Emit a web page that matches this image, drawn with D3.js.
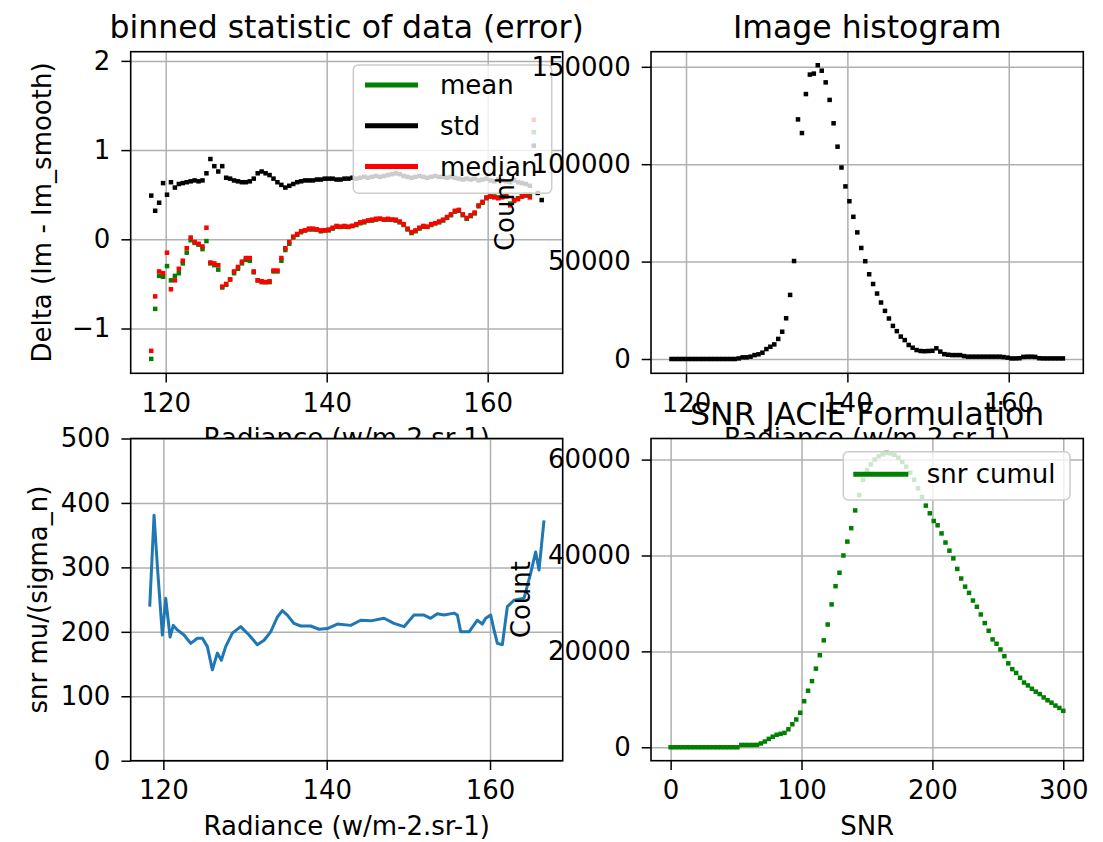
<!DOCTYPE html>
<html>
<head>
<meta charset="utf-8">
<script src="https://cdn.jsdelivr.net/npm/d3@7"></script>
<style>
  body { margin: 0; background: white; }
  svg text { font-family: "DejaVu Sans", sans-serif; }
</style>
</head>
<body>
<script>
// radiance bin centres shared by the binned statistic and the image histogram
var radiance = [118.20, 118.69, 119.18, 119.67, 120.16, 120.65, 121.14, 121.63, 122.12, 122.61,
    123.10, 123.59, 124.08, 124.57, 125.06, 125.55, 126.04, 126.53, 127.02, 127.51,
    128.00, 128.49, 128.98, 129.47, 129.96, 130.45, 130.94, 131.43, 131.92, 132.41,
    132.90, 133.39, 133.88, 134.37, 134.86, 135.35, 135.84, 136.33, 136.82, 137.31,
    137.80, 138.29, 138.78, 139.27, 139.76, 140.25, 140.74, 141.23, 141.72, 142.21,
    142.70, 143.19, 143.68, 144.17, 144.66, 145.15, 145.64, 146.13, 146.62, 147.11,
    147.60, 148.09, 148.58, 149.07, 149.56, 150.05, 150.54, 151.03, 151.52, 152.01,
    152.50, 152.99, 153.48, 153.97, 154.46, 154.95, 155.44, 155.93, 156.42, 156.91,
    157.40, 157.89, 158.38, 158.87, 159.36, 159.85, 160.34, 160.83, 161.32, 161.81,
    162.30, 162.79, 163.28, 163.77, 164.26, 164.75, 165.24, 165.73, 166.22, 166.71];

var meanDelta = [-1.34, -0.78, -0.41, -0.42, -0.30, -0.46, -0.41, -0.38, -0.27, -0.15,
    -0.01, -0.04, -0.06, -0.11, -0.02, -0.27, -0.29, -0.34, -0.54, -0.51,
    -0.45, -0.38, -0.33, -0.27, -0.23, -0.24, -0.37, -0.46, -0.48, -0.48,
    -0.48, -0.36, -0.36, -0.24, -0.12, -0.05, 0.02, 0.05, 0.08, 0.10,
    0.11, 0.11, 0.11, 0.09, 0.10, 0.10, 0.12, 0.14, 0.14, 0.14,
    0.14, 0.15, 0.16, 0.18, 0.19, 0.21, 0.21, 0.22, 0.23, 0.22,
    0.22, 0.22, 0.21, 0.19, 0.16, 0.11, 0.07, 0.09, 0.12, 0.14,
    0.14, 0.16, 0.18, 0.19, 0.21, 0.24, 0.27, 0.31, 0.32, 0.27,
    0.23, 0.26, 0.29, 0.37, 0.41, 0.46, 0.48, 0.48, 0.47, 0.48,
    0.49, 0.40, 0.43, 0.46, 0.48, 0.49, 0.50, 1.20, null, null];

var stdDelta = [0.49, 0.32, 0.41, 0.63, 0.50, 0.64, 0.58, 0.62, 0.63, 0.64,
    0.65, 0.66, 0.65, 0.66, 0.74, 0.90, 0.82, 0.76, 0.82, 0.69,
    0.68, 0.66, 0.65, 0.64, 0.64, 0.65, 0.68, 0.74, 0.76, 0.74,
    0.72, 0.68, 0.64, 0.61, 0.58, 0.60, 0.62, 0.64, 0.65, 0.66,
    0.66, 0.66, 0.67, 0.67, 0.68, 0.68, 0.68, 0.67, 0.67, 0.68,
    0.68, 0.69, 0.68, 0.69, 0.70, 0.69, 0.70, 0.71, 0.70, 0.71,
    0.72, 0.73, 0.74, 0.73, 0.71, 0.70, 0.69, 0.70, 0.71, 0.70,
    0.69, 0.70, 0.71, 0.70, 0.70, 0.69, 0.70, 0.69, 0.68, 0.67,
    0.68, 0.67, 0.68, 0.66, 0.67, 0.68, 0.66, 0.65, 0.67, 0.66,
    0.65, 0.64, 0.66, 0.64, 0.63, 0.62, 0.60, 1.05, 0.52, 0.44];

var medianDelta = [-1.25, -0.64, -0.36, -0.38, -0.15, -0.56, -0.46, -0.33, -0.24, -0.10,
    0.02, -0.03, -0.05, -0.08, 0.13, -0.26, -0.27, -0.29, -0.53, -0.50,
    -0.45, -0.36, -0.31, -0.25, -0.21, -0.21, -0.36, -0.46, -0.47, -0.48,
    -0.47, -0.35, -0.35, -0.21, -0.10, -0.03, 0.03, 0.06, 0.09, 0.10,
    0.12, 0.12, 0.11, 0.10, 0.10, 0.11, 0.13, 0.15, 0.14, 0.15,
    0.14, 0.15, 0.17, 0.19, 0.20, 0.21, 0.22, 0.23, 0.23, 0.22,
    0.23, 0.22, 0.22, 0.20, 0.17, 0.12, 0.08, 0.10, 0.13, 0.15,
    0.14, 0.17, 0.18, 0.20, 0.22, 0.25, 0.28, 0.32, 0.33, 0.28,
    0.24, 0.27, 0.30, 0.38, 0.42, 0.47, 0.48, 0.47, 0.46, 0.47,
    0.48, 0.38, 0.44, 0.45, 0.48, 0.50, 0.47, 1.34, null, null];

var histCount = [0, 0, 0, 0, 0, 0, 0, 0, 0, 0,
    0, 0, 0, 0, 0, 0, 0, 300, 850, 850,
    1200, 2000, 2400, 3250, 5100, 6300, 7500, 10300, 14000, 20900,
    32900, 50300, 123000, 116000, 136000, 146000, 146500, 150800, 148000, 142000,
    133000, 121000, 109000, 98300, 88600, 81000, 73000, 65000, 57000, 50200,
    43500, 38500, 33600, 29000, 24700, 20800, 17000, 14300, 11500, 9700,
    7200, 5800, 4600, 4100, 4000, 4100, 4200, 5500, 3800, 2500,
    2200, 2000, 2000, 2000, 1500, 1200, 1200, 1200, 1200, 1200,
    1200, 1200, 1200, 1200, 1000, 700, 300, 300, 400, 1100,
    1200, 1200, 1100, 400, 300, 300, 300, 300, 300, 300];

var snrRadiance = [118.33, 118.86, 119.27, 119.88, 120.29, 120.82, 121.22, 121.71, 122.53, 123.35,
    124.16, 124.78, 125.39, 126.00, 126.61, 127.10, 127.63, 128.45, 129.47, 130.49,
    131.51, 132.33, 133.14, 133.96, 134.57, 135.18, 136.00, 136.82, 138.04, 139.06,
    140.08, 141.31, 142.94, 144.16, 145.39, 147.02, 148.24, 149.47, 150.69, 151.92,
    152.73, 153.55, 154.37, 155.59, 156.00, 156.41, 157.43, 158.45, 159.06, 159.47,
    160.08, 160.49, 160.90, 161.51, 162.12, 162.94, 164.16, 164.98, 165.59, 166.00, 166.61];

var snrValue = [239, 381, 301, 195, 252, 192, 210, 203, 195, 182,
    190, 190, 177, 141, 167, 156, 177, 198, 208, 195,
    180, 187, 200, 223, 233, 226, 213, 209, 209, 204,
    205, 212, 210, 218, 217, 221, 213, 208, 226, 226,
    221, 228, 226, 229, 226, 200, 200, 218, 212, 221,
    226, 203, 182, 180, 239, 249, 252, 291, 324, 296, 373];

var snrBins = [0, 3, 6, 9, 12, 15, 18, 21, 24, 27, 30, 33, 36, 39, 42, 45, 48, 51,
    54, 57, 60, 63, 66, 69, 72, 75, 78, 81, 84, 87, 90, 93, 96, 99,
    102, 105, 108, 111, 114, 117, 120, 123, 126, 129, 132, 135, 138, 141, 144, 147,
    150, 153, 156, 159, 162, 165, 168, 171, 174, 177, 180, 183, 186, 189, 192, 195, 198,
    201, 204, 207, 210, 213, 216, 219, 222, 225, 228, 231, 234, 237, 240, 243, 246, 249,
    252, 255, 258, 261, 264, 267, 270, 273, 276, 279, 282, 285, 288, 291, 294, 297, 300];

var snrCumul = [0, 0, 0, 0, 0, 0, 0, 0, 0, 0, 0, 0, 0, 0, 0, 0, 0, 0,
    480, 480, 480, 480, 500, 800, 1200, 1750, 2200, 2600, 2800, 3000, 3750, 4800, 5800, 7200,
    9600, 11800, 13800, 16400, 19200, 22300, 25600, 29800, 33600, 36400, 40000, 42900, 45700, 49400, 52600, 55800,
    57800, 59000, 60000, 60700, 61100, 61400, 61300, 61000, 60400, 59500, 58500, 57300, 55800, 54000, 52200, 50400, 48800,
    47200, 46300, 44600, 42700, 41000, 39400, 37200, 35200, 33500, 32200, 30600, 29300, 27700, 25900, 24300, 22500, 21600,
    20400, 19000, 17500, 16300, 15500, 14500, 13500, 12900, 12200, 11600, 11100, 10400, 9800, 9300, 8700, 8200, 7600];

var radianceTicks = [120, 140, 160];
var deltaTicks = [-1, 0, 1, 2];
var countTicks = [0, 50000, 100000, 150000];
var snrTicks = [0, 100, 200, 300, 400, 500];
var snrBinTicks = [0, 100, 200, 300];
var cumulTicks = [0, 20000, 40000, 60000];

var svg = d3.select("body").append("svg")
    .attr("width", 1103)
    .attr("height", 842);

var fontSize = 26;

// squares like matplotlib's small markers
function squares(g, xs, ys, xv, yv, color) {
    var pts = xv.map(function(v, i) { return [v, yv[i]]; })
        .filter(function(d) { return d[1] != null; });
    g.selectAll(null)
        .data(pts)
        .enter()
        .append("rect")
        .attr("x", function(d) { return xs(d[0]) - 2.25; })
        .attr("y", function(d) { return ys(d[1]) - 2.25; })
        .attr("width", 4.5)
        .attr("height", 4.5)
        .attr("fill", color);
}

function legend(g, box, entries) {
    var lg = g.append("g");
    lg.append("rect")
        .attr("x", box.x).attr("y", box.y)
        .attr("width", box.w).attr("height", box.h)
        .attr("rx", 5)
        .attr("fill", "white").attr("fill-opacity", 0.8)
        .attr("stroke", "#cccccc").attr("stroke-width", 1.5);
    entries.forEach(function(e, i) {
        var cy = box.first + i * box.step;
        lg.append("line")
            .attr("x1", box.hx).attr("x2", box.hx + box.hl)
            .attr("y1", cy).attr("y2", cy)
            .attr("stroke", e.color).attr("stroke-width", 5);
        lg.append("text")
            .attr("x", box.tx).attr("y", cy + 9)
            .attr("font-size", fontSize)
            .text(e.label);
    });
}

function panel(opt) {
    var g = svg.append("g")
        .attr("transform", "translate(" + opt.x + "," + opt.y + ")");
    var x = d3.scaleLinear().domain(opt.xDomain).range([0, opt.w]);
    var y = d3.scaleLinear().domain(opt.yDomain).range([opt.h, 0]);

    g.append("rect").attr("width", opt.w).attr("height", opt.h).attr("fill", "white");

    // grid
    var gx = g.append("g")
        .attr("transform", "translate(0," + opt.h + ")")
        .call(d3.axisBottom(x).tickValues(opt.xTicks).tickSize(-opt.h).tickFormat(""));
    var gy = g.append("g")
        .call(d3.axisLeft(y).tickValues(opt.yTicks).tickSize(-opt.w).tickFormat(""));
    [gx, gy].forEach(function(a) {
        a.select(".domain").remove();
        a.selectAll("line").attr("stroke", "#b0b0b0").attr("stroke-width", 1.5);
    });

    g.append("clipPath").attr("id", "clip" + opt.id)
        .append("rect").attr("width", opt.w).attr("height", opt.h);
    var plot = g.append("g").attr("clip-path", "url(#clip" + opt.id + ")");
    opt.draw(plot, x, y);

    g.append("rect")
        .attr("width", opt.w).attr("height", opt.h)
        .attr("fill", "none").attr("stroke", "black").attr("stroke-width", 1.6);

    var ax = g.append("g")
        .attr("transform", "translate(0," + opt.h + ")")
        .call(d3.axisBottom(x).tickValues(opt.xTicks).tickSizeInner(9.3).tickSizeOuter(0)
            .tickPadding(11).tickFormat(d3.format("d")));
    var ay = g.append("g")
        .call(d3.axisLeft(y).tickValues(opt.yTicks).tickSizeInner(9.3).tickSizeOuter(0)
            .tickPadding(11).tickFormat(d3.format("d")));
    [ax, ay].forEach(function(a) {
        a.attr("font-size", fontSize).attr("font-family", "DejaVu Sans");
        a.select(".domain").remove();
        a.selectAll("line").attr("stroke", "black").attr("stroke-width", 1.5);
        a.selectAll("text").attr("fill", "black");
    });

    g.append("text")
        .attr("x", opt.w / 2).attr("y", opt.h + 74)
        .attr("text-anchor", "middle")
        .attr("font-size", fontSize)
        .text(opt.xLabel);
    g.append("text")
        .attr("transform", "translate(" + opt.yLabelX + "," + opt.h / 2 + ") rotate(-90)")
        .attr("text-anchor", "middle")
        .attr("font-size", fontSize)
        .text(opt.yLabel);
    if (opt.title) {
        g.append("text")
            .attr("x", opt.w / 2).attr("y", -14)
            .attr("text-anchor", "middle")
            .attr("font-size", 31.5)
            .text(opt.title);
    }
    if (opt.legend) legend(g, opt.legend, opt.entries);
}

// top left: binned statistic
panel({
    id: 1, x: 130.7, y: 51.7, w: 432, h: 321.6,
    xDomain: [115.65, 169.32], yDomain: [-1.502, 2.103],
    xTicks: radianceTicks, yTicks: deltaTicks,
    xLabel: "Radiance (w/m-2.sr-1)", yLabel: "Delta (Im - Im_smooth)", yLabelX: -80,
    title: "binned statistic of data (error)",
    draw: function(g, x, y) {
        squares(g, x, y, radiance, meanDelta, "#008000");
        squares(g, x, y, radiance, stdDelta, "black");
        squares(g, x, y, radiance, medianDelta, "#ff0000");
    },
    legend: { x: 222.6, y: 13.3, w: 198.4, h: 128.3, first: 33.3, step: 40.8, hx: 234.3, hl: 53, tx: 309.3 },
    entries: [
        { label: "mean", color: "#008000" },
        { label: "std", color: "black" },
        { label: "median", color: "#ff0000" }
    ]
});

// top right: image histogram
panel({
    id: 2, x: 651, y: 51.7, w: 432.3, h: 321.6,
    xDomain: [115.66, 169.24], yDomain: [-7340, 157750],
    xTicks: radianceTicks, yTicks: countTicks,
    xLabel: "Radiance (w/m-2.sr-1)", yLabel: "Count", yLabelX: -137,
    title: "Image histogram",
    draw: function(g, x, y) {
        squares(g, x, y, radiance, histCount, "black");
    }
});

// bottom left: snr per radiance
panel({
    id: 3, x: 130.7, y: 438.5, w: 432, h: 322.2,
    xDomain: [116.0, 168.9], yDomain: [0, 500],
    xTicks: radianceTicks, yTicks: snrTicks,
    xLabel: "Radiance (w/m-2.sr-1)", yLabel: "snr mu/(sigma_n)", yLabelX: -84,
    draw: function(g, x, y) {
        var line = d3.line()
            .x(function(d) { return x(d[0]); })
            .y(function(d) { return y(d[1]); });
        g.append("path")
            .datum(snrRadiance.map(function(r, i) { return [r, snrValue[i]]; }))
            .attr("d", line)
            .attr("fill", "none")
            .attr("stroke", "#1f77b4")
            .attr("stroke-width", 3)
            .attr("stroke-linejoin", "round");
    }
});

// bottom right: SNR JACIE formulation
panel({
    id: 4, x: 651, y: 438.5, w: 432.3, h: 322.2,
    xDomain: [-15.0, 315.3], yDomain: [-2800, 64400],
    xTicks: snrBinTicks, yTicks: cumulTicks,
    xLabel: "SNR", yLabel: "Count", yLabelX: -121,
    title: "SNR JACIE Formulation",
    draw: function(g, x, y) {
        squares(g, x, y, snrBins, snrCumul, "#008000");
    },
    legend: { x: 192.3, y: 13.2, w: 226.7, h: 48.3, first: 35.8, step: 0, hx: 202.3, hl: 55, tx: 275.7 },
    entries: [{ label: "snr cumul", color: "#008000" }]
});
</script>
</body>
</html>
